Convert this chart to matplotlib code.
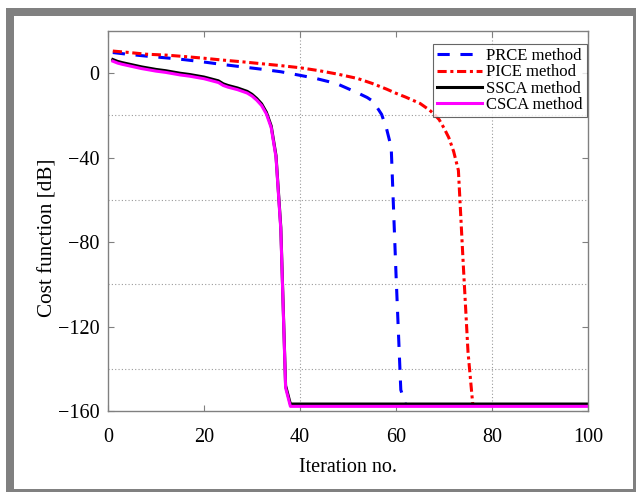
import matplotlib
matplotlib.use("Agg")
import matplotlib.pyplot as plt
from matplotlib.patches import Rectangle

# ---------------- data ----------------
iters_prce = [1, 4, 8, 12, 16, 20, 24, 28, 32, 36, 40, 43, 46, 48, 50, 52, 54,
              55, 56, 57, 58, 59, 60, 61, 62, 100]
prce = [9.8, 9.0, 8.1, 7.3, 6.4, 5.3, 4.1, 3.0, 1.9, 0.7, -1.0, -2.3, -4.0, -5.3,
        -7.3, -9.3, -11.5, -13.0, -16.0, -19.5, -26.0, -35.0, -95.0, -150.0,
        -157.0, -157.0]

iters_pice = [1, 4, 8, 12, 16, 20, 24, 28, 32, 36, 40, 44, 48, 52, 55, 58, 60,
              62, 65, 67, 68, 69, 70, 71, 72, 73, 74, 75, 76, 100]
pice = [10.5, 9.9, 9.0, 8.6, 7.9, 7.1, 6.2, 5.4, 4.5, 3.6, 2.6, 1.2, -0.5, -2.5,
        -4.8, -7.5, -9.5, -11.3, -14.3, -17.5, -19.5, -22.0, -26.0, -30.5,
        -37.0, -46.0, -90.0, -132.0, -157.0, -157.0]

iters_sca = list(range(1, 39)) + [100]
ssca = [6.5, 5.6, 5.0, 4.5, 4.0, 3.5, 3.0, 2.6, 2.2, 1.8, 1.5, 1.2, 0.8, 0.4,
        0.0, -0.3, -0.6, -1.0, -1.4, -1.8, -2.4, -3.0, -3.6, -5.0, -5.8, -6.4,
        -7.0, -7.8, -8.6, -10.0, -12.0, -14.5, -18.5, -25.0, -39.0, -73.0,
        -148.0, -156.7, -156.7]
csca = [5.7, 4.8, 4.2, 3.7, 3.2, 2.7, 2.2, 1.8, 1.4, 1.0, 0.7, 0.4, 0.0, -0.4,
        -0.8, -1.1, -1.4, -1.8, -2.2, -2.6, -3.2, -3.8, -4.4, -5.8, -6.6, -7.2,
        -7.8, -8.6, -9.4, -10.8, -12.8, -15.3, -19.3, -25.8, -39.8, -74.0,
        -149.0, -157.8, -157.8]

labels = ["PRCE method", "PICE method", "SSCA method", "CSCA method"]
xticks = [0, 20, 40, 60, 80, 100]
yticks = [-160, -120, -80, -40, 0]
grid_x = [40, 80]
grid_y = [-20, -60, -100, -140]

# ---------------- figure ----------------
plt.rcParams['font.family'] = ['Liberation Serif', 'DejaVu Serif']
plt.rcParams['mathtext.fontset'] = 'stix'

W, H = 636, 492
fig = plt.figure(figsize=(W / 100, H / 100), dpi=100)
fig.patch.set_facecolor('white')

# gray frame around the panel
fig.patches.append(Rectangle((6 / W, 0), 1, (H - 8) / H, transform=fig.transFigure,
                             facecolor='#808080', edgecolor='none', zorder=-3))
fig.patches.append(Rectangle((14 / W, 3 / H), (633 - 14) / W, (489 - 16) / H,
                             transform=fig.transFigure, facecolor='white',
                             edgecolor='none', zorder=-2))

ax = fig.add_axes([108 / W, (H - 411) / H, 480 / W, 380 / H])
ax.set_facecolor('white')

for gx in grid_x:
    ax.axvline(gx, color='#9a9a9a', lw=0.8, ls=(0, (1, 2)), zorder=0.5)
for gy in grid_y:
    ax.axhline(gy, color='#9a9a9a', lw=0.8, ls=(0, (1, 2)), zorder=0.5)

lw = 2.2
ax.plot(iters_prce, prce, color='#0000ff', lw=lw, ls=(0, (4, 3.5)), label=labels[0])
ax.plot(iters_pice, pice, color='#ff0000', lw=lw, ls=(0, (3, 1.2, 1, 1.2)), label=labels[1])
ax.plot(iters_sca, ssca, color='black', lw=lw, label=labels[2])
ax.plot(iters_sca, csca, color='#ff00ff', lw=lw, label=labels[3])

ax.set_xlim(0, 100)
ax.set_ylim(-160, 20)
ax.set_xticks(xticks)
ax.set_yticks(yticks)
ax.tick_params(direction='in', length=4, width=0.8, color='#808080',
               top=True, right=True, labelsize=14.5)
ax.tick_params(axis='x', pad=12.5)
ax.tick_params(axis='y', pad=6)
for s in ax.spines.values():
    s.set_color('#808080')
    s.set_linewidth(1.0)

ax.set_xlabel("Iteration no.", fontsize=14.5, labelpad=8)
ax.set_ylabel("Cost function [dB]", fontsize=15.2)
ax.yaxis.set_label_coords(-0.106, 0.455)

leg = ax.legend(loc='upper right', bbox_to_anchor=(0.998, 0.966), borderaxespad=0,
                fontsize=12, frameon=True, fancybox=False, handlelength=2.7,
                handletextpad=0.25, labelspacing=0.02, borderpad=0.25)
leg.get_frame().set_edgecolor('#404040')
leg.get_frame().set_linewidth(0.8)

fig.savefig("out.png", dpi=100)
